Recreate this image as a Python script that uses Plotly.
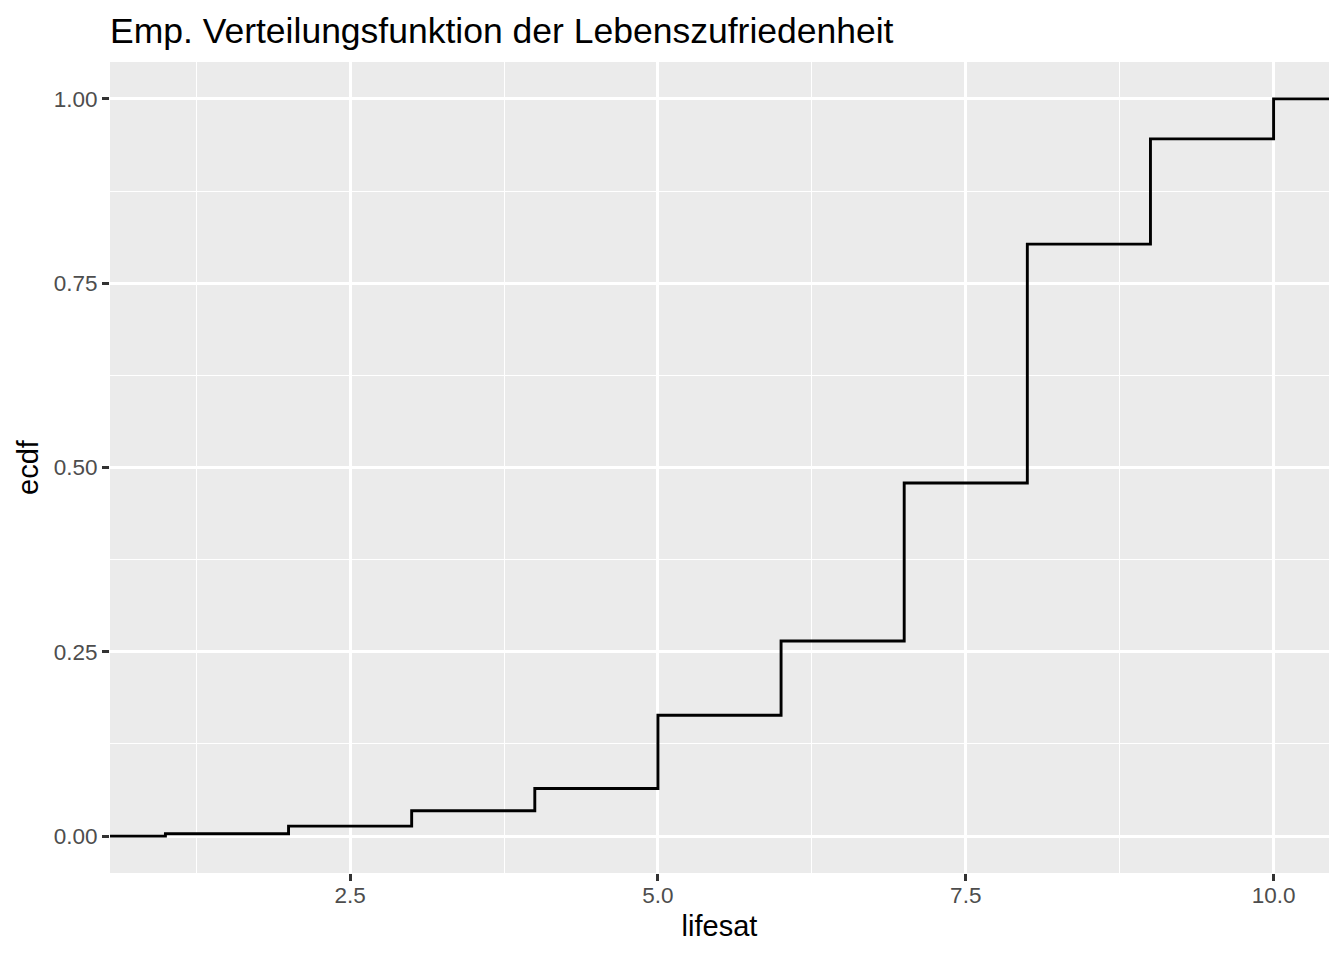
import plotly.graph_objects as go

# Data: empirical CDF of life satisfaction
lifesat = [1, 2, 3, 4, 5, 6, 7, 8, 9, 10]
ecdf = [0.0033, 0.0136, 0.0345, 0.0647, 0.164, 0.2646, 0.479, 0.803, 0.9457, 1.0]

x_ticks = [2.5, 5.0, 7.5, 10.0]
x_ticklabels = ["2.5", "5.0", "7.5", "10.0"]
y_ticks = [0.0, 0.25, 0.5, 0.75, 1.0]
y_ticklabels = ["0.00", "0.25", "0.50", "0.75", "1.00"]

# ggplot-style expanded limits (5%)
xmin, xmax = min(lifesat), max(lifesat)
xpad = (xmax - xmin) * 0.05
ymin, ymax = 0.0, 1.0
ypad = (ymax - ymin) * 0.05

# pad with -Inf/Inf equivalents (beyond the axis range, clipped by plot area)
xs = [xmin - 10 * xpad] + lifesat + [xmax + 10 * xpad]
ys = [0.0] + ecdf + [1.0]

fig = go.Figure()
fig.add_trace(go.Scatter(
    x=xs, y=ys, mode="lines", line=dict(color="black", width=2.9, shape="hv"),
    hoverinfo="skip", showlegend=False,
))

font_family = "Liberation Sans, Arial, Helvetica, sans-serif"

fig.update_layout(
    width=1344, height=960,
    paper_bgcolor="white", plot_bgcolor="#EBEBEB",
    margin=dict(l=110, r=15, t=62, b=87),
    font=dict(family=font_family, color="black"),
    title=dict(
        text="Emp. Verteilungsfunktion der Lebenszufriedenheit",
        x=0, xanchor="left", xref="paper",
        y=1 - 31 / 960, yanchor="middle", yref="container",
        font=dict(size=35.5, color="black", family=font_family),
    ),
    xaxis=dict(
        range=[xmin - xpad, xmax + xpad],
        tickvals=x_ticks, ticktext=x_ticklabels,
        ticks="outside", ticklen=7, tickwidth=2.8, tickcolor="#333333",
        tickfont=dict(size=22.5, color="#4D4D4D"),
        ticklabelstandoff=-5,
        showgrid=True, gridcolor="white", gridwidth=2.8,
        minor=dict(dtick=1.25, tick0=0, showgrid=True, gridcolor="white", gridwidth=1.4, ticks=""),
        zeroline=False, showline=False,
        title=dict(text="lifesat", font=dict(size=29, color="black"), standoff=8),
    ),
    yaxis=dict(
        range=[ymin - ypad, ymax + ypad],
        tickvals=y_ticks, ticktext=y_ticklabels,
        ticks="outside", ticklen=7, tickwidth=2.8, tickcolor="#333333",
        tickfont=dict(size=22.5, color="#4D4D4D"),
        showgrid=True, gridcolor="white", gridwidth=2.8,
        minor=dict(dtick=0.125, tick0=0, showgrid=True, gridcolor="white", gridwidth=1.4, ticks=""),
        zeroline=False, showline=False,
        title=dict(text="ecdf", font=dict(size=29, color="black"), standoff=6),
    ),
)

fig.write_html("out.html", config={"displayModeBar": False},
               post_script="document.body.style.margin='0px';")
